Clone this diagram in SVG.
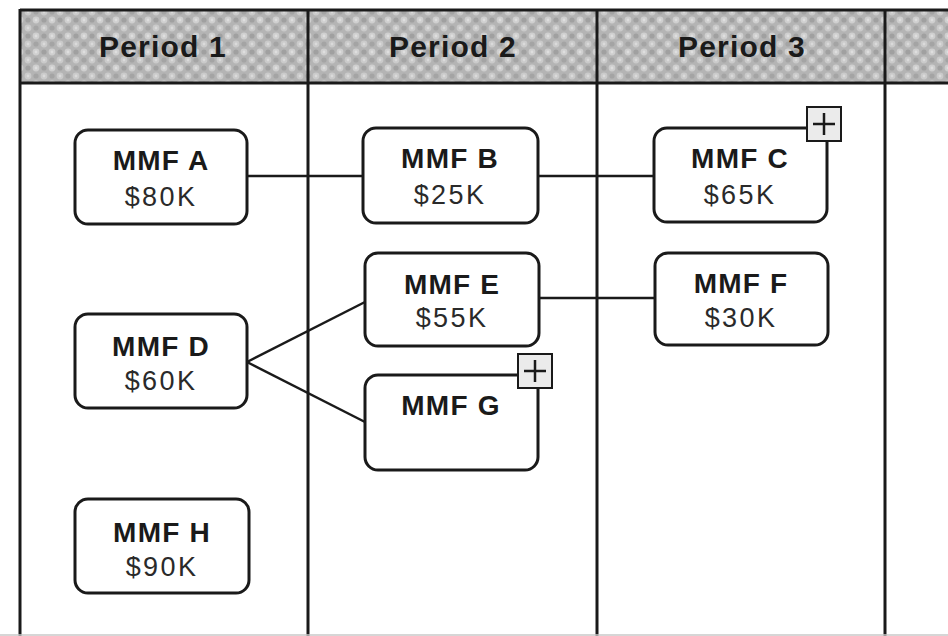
<svg xmlns="http://www.w3.org/2000/svg" width="948" height="636" viewBox="0 0 948 636">
<style>
.frame{stroke:#1a1a1a;stroke-width:3;fill:none}
.node{fill:#fff;stroke:#1a1a1a;stroke-width:3}
.plus{fill:#ebebeb;stroke:#1a1a1a;stroke-width:2}
.pl{stroke:#1a1a1a;stroke-width:2.5}
.title{font-family:"Liberation Sans",Arial,sans-serif;font-weight:bold;font-size:28px;fill:#1a1a1a;text-anchor:middle;letter-spacing:1.2px}
.val{font-family:"Liberation Sans",Arial,sans-serif;font-size:27px;fill:#2a2a2a;text-anchor:middle;letter-spacing:2.4px}
.head{font-family:"Liberation Sans",Arial,sans-serif;font-weight:bold;font-size:30px;fill:#1a1a1a;text-anchor:middle;letter-spacing:1.2px}
.conn line{stroke:#1a1a1a;stroke-width:2.5}
</style>
<defs>
<pattern id="mottle" width="16" height="16" patternUnits="userSpaceOnUse">
<rect width="16" height="16" fill="#b4b4b4"/>
<circle cx="4" cy="4" r="3.4" fill="#cfcfcf"/>
<circle cx="12" cy="12" r="3.4" fill="#cacaca"/>
<circle cx="12" cy="4" r="2.6" fill="#a0a0a0"/>
<circle cx="4" cy="12" r="2.6" fill="#a4a4a4"/>
<circle cx="4" cy="4" r="1.4" fill="#dedede"/>
<circle cx="12" cy="12" r="1.4" fill="#dadada"/>
</pattern>
</defs>
<rect width="948" height="636" fill="#fff"/>
<g id="header">
<rect x="20" y="10" width="928" height="73" fill="url(#mottle)"/>
<text class="head" x="163" y="57">Period 1</text>
<text class="head" x="453" y="57">Period 2</text>
<text class="head" x="742" y="57">Period 3</text>
</g>
<g id="grid">
<line class="frame" x1="20" y1="10" x2="948" y2="10"/>
<line class="frame" x1="20" y1="83" x2="948" y2="83"/>
<line class="frame" x1="20" y1="9" x2="20" y2="636"/>
<line class="frame" x1="308" y1="9" x2="308" y2="636"/>
<line class="frame" x1="597" y1="9" x2="597" y2="636"/>
<line class="frame" x1="885" y1="9" x2="885" y2="636"/>
<line x1="0" y1="635" x2="948" y2="635" stroke="#c8c8c8" stroke-width="1.5"/>
</g>
<g id="connectors" class="conn">
<line x1="247" y1="176" x2="363" y2="176"/>
<line x1="538" y1="176" x2="654" y2="176"/>
<line x1="539" y1="298" x2="655" y2="298"/>
<line x1="247" y1="362" x2="365" y2="302"/>
<line x1="247" y1="362" x2="365" y2="422"/>
</g>
<g id="nodeA">
<rect class="node" x="75" y="130" width="172" height="94" rx="13"/>
<text class="title" x="161" y="170">MMF A</text>
<text class="val" x="161" y="206">$80K</text>
</g>
<g id="nodeB">
<rect class="node" x="363" y="128" width="175" height="95" rx="13"/>
<text class="title" x="450" y="168">MMF B</text>
<text class="val" x="450" y="204">$25K</text>
</g>
<g id="nodeC">
<rect class="node" x="654" y="128" width="173" height="94" rx="13"/>
<text class="title" x="740" y="168">MMF C</text>
<text class="val" x="740" y="204">$65K</text>
<rect class="plus" x="807" y="107" width="34" height="34"/>
<line class="pl" x1="813" y1="124" x2="835" y2="124"/>
<line class="pl" x1="824" y1="113" x2="824" y2="135"/>
</g>
<g id="nodeD">
<rect class="node" x="75" y="314" width="172" height="94" rx="13"/>
<text class="title" x="161" y="356">MMF D</text>
<text class="val" x="161" y="390">$60K</text>
</g>
<g id="nodeE">
<rect class="node" x="365" y="253" width="174" height="93" rx="13"/>
<text class="title" x="452" y="294">MMF E</text>
<text class="val" x="452" y="327">$55K</text>
</g>
<g id="nodeF">
<rect class="node" x="655" y="253" width="173" height="92" rx="13"/>
<text class="title" x="741" y="293">MMF F</text>
<text class="val" x="741" y="327">$30K</text>
</g>
<g id="nodeG">
<rect class="node" x="365" y="375" width="173" height="95" rx="13"/>
<text class="title" x="451" y="415">MMF G</text>
<rect class="plus" x="518" y="354" width="34" height="34"/>
<line class="pl" x1="524" y1="371" x2="546" y2="371"/>
<line class="pl" x1="535" y1="360" x2="535" y2="382"/>
</g>
<g id="nodeH">
<rect class="node" x="75" y="499" width="174" height="94" rx="13"/>
<text class="title" x="162" y="542">MMF H</text>
<text class="val" x="162" y="576">$90K</text>
</g>
</svg>
